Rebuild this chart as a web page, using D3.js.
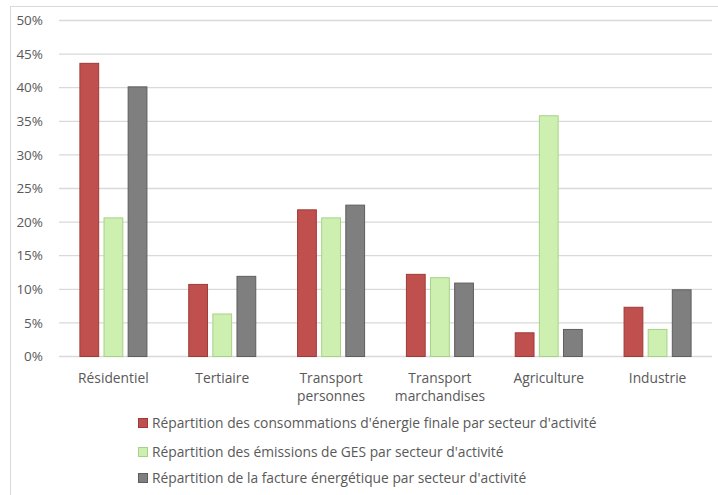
<!DOCTYPE html>
<html>
<head>
<meta charset="utf-8">
<script src="https://cdn.jsdelivr.net/npm/d3@7"></script>
<style>
  body { margin: 0; background: #fff; }
  text { font-family: "Open Sans", "Liberation Sans", sans-serif; fill: #595959; }
</style>
</head>
<body>
<div id="chart"></div>
<script>
// categories and series
var categories = ["Résidentiel", "Tertiaire", "Transport personnes", "Transport marchandises", "Agriculture", "Industrie"];
var seriesNames = [
  "Répartition des consommations d'énergie finale par secteur d'activité",
  "Répartition des émissions de GES par secteur d'activité",
  "Répartition de la facture énergétique par secteur d'activité"
];
var energie = [43.7, 10.8, 21.9, 12.3, 3.6, 7.4];
var ges = [20.7, 6.4, 20.7, 11.8, 35.9, 4.1];
var facture = [40.2, 12.0, 22.6, 11.0, 4.1, 10.0];
var yTicks = [0, 5, 10, 15, 20, 25, 30, 35, 40, 45, 50];

var fills = ["#C0504D", "#CDF0B0", "#7F7F7F"];
var strokes = ["#9E3B38", "#A6D287", "#5E5E5E"];

var width = 718, height = 495;
var plotLeft = 59, plotRight = 712, plotTop = 20.5, plotBottom = 356.5;

var svg = d3.select("#chart").append("svg")
    .attr("width", width)
    .attr("height", height);

// chart frame
svg.append("rect")
    .attr("x", 10.5).attr("y", 6.5)
    .attr("width", 720).attr("height", 500)
    .attr("fill", "none")
    .attr("stroke", "#D9D9D9");

var x = d3.scaleBand()
    .domain(categories)
    .range([plotLeft, plotRight])
    .paddingInner(0.375)
    .paddingOuter(0.1875);

var x1 = d3.scaleBand()
    .domain([0, 1, 2])
    .range([0, x.bandwidth()])
    .paddingInner(0.18);

var y = d3.scaleLinear()
    .domain([0, 50])
    .range([plotBottom, plotTop]);

// gridlines
svg.append("g")
    .selectAll("line")
    .data(yTicks)
    .join("line")
    .attr("x1", plotLeft).attr("x2", plotRight)
    .attr("y1", d => y(d)).attr("y2", d => y(d))
    .attr("stroke", "#D9D9D9")
    .attr("stroke-width", 1.3);

// y tick labels
svg.append("g")
    .selectAll("text")
    .data(yTicks)
    .join("text")
    .attr("x", 43)
    .attr("y", d => y(d))
    .attr("dy", "0.35em")
    .attr("text-anchor", "end")
    .style("font-size", "13.5px")
    .text(d => d + "%");

var series = [energie, ges, facture];

// bars
series.forEach(function(vals, s) {
  svg.append("g")
    .selectAll("rect")
    .data(vals)
    .join("rect")
    .attr("x", (d, i) => x(categories[i]) + x1(s) + 0.5)
    .attr("y", d => y(d) + 0.5)
    .attr("width", x1.bandwidth() - 1)
    .attr("height", d => y(0) - y(d) - 0.5)
    .attr("fill", fills[s])
    .attr("stroke", strokes[s])
    .attr("stroke-width", 1);
});

// category labels (wrapped on two lines where needed)
var catLabels = svg.append("g")
    .selectAll("text")
    .data(categories)
    .join("text")
    .attr("x", d => x(d) + x.bandwidth() / 2)
    .attr("y", 383)
    .attr("text-anchor", "middle")
    .style("font-size", "13.8px");

catLabels.each(function(d) {
  var words = d.split(" ");
  var t = d3.select(this);
  words.forEach(function(w, k) {
    t.append("tspan")
      .attr("x", x(d) + x.bandwidth() / 2)
      .attr("dy", k === 0 ? 0 : 18)
      .text(w);
  });
});

// legend
var legend = svg.append("g")
    .selectAll("g")
    .data(seriesNames)
    .join("g")
    .attr("transform", (d, i) => "translate(138," + [423, 452, 478][i] + ")");

legend.append("rect")
    .attr("x", 0.5).attr("y", -4.5)
    .attr("width", 9).attr("height", 9)
    .attr("fill", (d, i) => fills[i])
    .attr("stroke", (d, i) => strokes[i]);

legend.append("text")
    .attr("x", 14)
    .attr("dy", "0.35em")
    .style("font-size", "13.8px")
    .text(d => d);
</script>
</body>
</html>
